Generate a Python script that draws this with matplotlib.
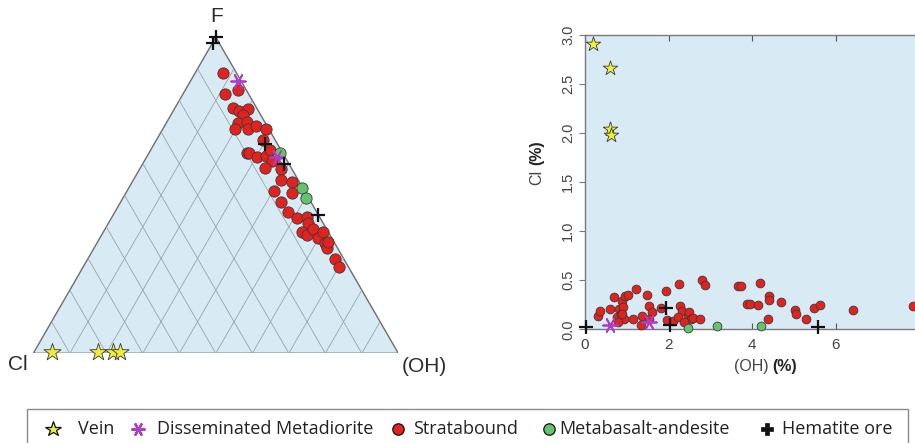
import numpy as np
import matplotlib
matplotlib.use("Agg")
import matplotlib.pyplot as plt
from matplotlib.patches import Rectangle, Polygon

plt.rcParams['font.family'] = ['Liberation Sans', 'DejaVu Sans']

# ---------------- Ternary data (F, Cl, OH in %) ----------------
strat_F = [88.6, 83.3, 82.1, 77.5, 76.8, 77.2, 75.4, 72.8, 73.3, 70.9, 70.9, 71.9, 70.9, 67.5,
           63.3, 63.3, 62.0, 62.4, 64.3, 60.7, 58.5, 58.2, 54.9, 54.3, 50.8, 51.5, 48.0, 44.8,
           42.7, 43.2, 41.1, 38.5, 37.4, 39.2, 36.4, 38.5, 35.0, 33.2, 35.3, 29.7, 27.2]
strat_Cl = [3.8, 2.2, 6.4, 6.5, 5.2, 2.5, 4.8, 7.4, 4.9, 9.3, 5.6, 3.1, 0.8, 3.2,
            9.9, 9.2, 7.6, 5.1, 2.9, 4.3, 7.3, 3.1, 4.7, 2.1, 3.8, 8.2, 8.0, 7.7,
            6.5, 3.5, 4.1, 7.0, 6.4, 3.9, 3.7, 1.3, 2.6, 3.0, 1.5, 2.5, 2.6]
strat_OH = [7.6, 14.5, 11.5, 16.0, 18.0, 20.3, 19.8, 19.8, 21.8, 19.8, 23.5, 25.0, 28.3, 29.3,
            26.8, 27.5, 30.4, 32.5, 32.8, 35.0, 34.2, 38.7, 40.4, 43.6, 45.4, 40.3, 44.0, 47.5,
            50.8, 53.3, 54.8, 54.5, 56.2, 56.9, 59.9, 60.2, 62.4, 63.8, 63.2, 67.8, 70.2]

meta_F = [63.5, 52.2, 49.1]
meta_Cl = [0.7, 0.2, 0.7]
meta_OH = [35.8, 47.6, 50.2]

diss_F = [86.2, 62.2]
diss_Cl = [0.9, 2.2]
diss_OH = [12.9, 35.6]

hem_F = [100.0, 98.3, 66.1, 59.9, 43.8]
hem_Cl = [0.0, 1.7, 3.5, 1.4, 0.0]
hem_OH = [0.0, 0.0, 30.4, 38.7, 56.2]

vein_F = [0.3, 0.3, 0.3, 0.3]
vein_Cl = [94.7, 82.2, 78.0, 76.0]
vein_OH = [5.0, 17.5, 21.7, 23.7]

# ---------------- Scatter data (OH %, Cl %) ----------------
s_vein_OH = [0.18, 0.60, 0.60, 0.62]
s_vein_Cl = [2.91, 2.66, 2.04, 1.98]

s_strat_OH = [0.30, 0.37, 0.61, 0.70, 0.76, 0.81, 0.86, 0.89, 0.92, 0.94, 0.97, 1.04, 1.16,
              1.22, 1.37, 1.34, 1.48, 1.53, 1.61, 1.53, 1.82, 1.94, 1.96, 2.10, 2.26, 2.28,
              2.33, 2.22, 2.46, 2.50, 2.54, 2.36, 2.58, 2.76, 2.81, 2.88, 3.66, 3.74, 3.88,
              3.96, 4.14, 4.20, 4.40, 4.40, 4.38, 4.69, 5.02, 5.06, 5.29, 5.48, 5.62, 6.42,
              7.85, 0.88, 0.78]
s_strat_Cl = [0.14, 0.19, 0.21, 0.33, 0.13, 0.21, 0.16, 0.29, 0.23, 0.10, 0.34, 0.35, 0.11,
              0.41, 0.14, 0.04, 0.35, 0.24, 0.18, 0.10, 0.22, 0.39, 0.09, 0.08, 0.46, 0.24,
              0.19, 0.13, 0.14, 0.18, 0.10, 0.07, 0.12, 0.10, 0.50, 0.45, 0.44, 0.44, 0.26,
              0.26, 0.25, 0.47, 0.34, 0.30, 0.11, 0.28, 0.20, 0.16, 0.11, 0.22, 0.25, 0.20,
              0.24, 0.16, 0.07]

s_meta_OH = [2.46, 3.17, 4.21]
s_meta_Cl = [0.01, 0.03, 0.03]

s_diss_OH = [0.61, 1.54]
s_diss_Cl = [0.04, 0.07]

s_hem_OH = [0.03, 1.94, 2.04, 5.58]
s_hem_Cl = [0.02, 0.22, 0.04, 0.02]

legend_labels = ["Vein", "Disseminated Metadiorite", "Stratabound", "Metabasalt-andesite", "Hematite ore"]
x_ticks = [0, 2, 4, 6, 8]
y_ticks = [0.0, 0.5, 1.0, 1.5, 2.0, 2.5, 3.0]

# ---------------- styles ----------------
BG = '#d8eaf3'
RED = '#e3221f'
GREEN = '#63c46d'
YELLOW = '#eded3c'
MAG = '#b03cc4'
EDGE = '#3a3a3a'

W, H = 915, 443
fig = plt.figure(figsize=(W / 100, H / 100), dpi=100)


def fx(px):
    return px / W


def fy(py):
    return (H - py) / H


# ---------------- ternary ----------------
clx, cly = 33.3, 353.3
side = 365.0
h3 = np.sqrt(3) / 2
axT = fig.add_axes([fx(clx), fy(cly), side / W, side * h3 / H])
axT.set_xlim(0, 1)
axT.set_ylim(0, h3)
axT.axis('off')

axT.add_patch(Polygon([[0, 0], [1, 0], [0.5, h3]], closed=True, facecolor=BG,
                      edgecolor='#6e6e6e', lw=1.0, zorder=1))
for k in range(1, 10):
    c = k / 10
    axT.plot([1 - c, (1 - c) / 2], [0, (1 - c) * h3], color='#98a4ac', lw=0.6, zorder=2)
    axT.plot([c, c + (1 - c) / 2], [0, (1 - c) * h3], color='#98a4ac', lw=0.6, zorder=2)


def tern(F, Cl, OH):
    F, Cl, OH = map(np.asarray, (F, Cl, OH))
    s = F + Cl + OH
    return OH / s + 0.5 * F / s, h3 * F / s


x, y = tern(strat_F, strat_Cl, strat_OH)
axT.scatter(x, y, s=66, c=RED, edgecolors=EDGE, linewidths=0.6, zorder=4, clip_on=False)
x, y = tern(meta_F, meta_Cl, meta_OH)
axT.scatter(x, y, s=66, c=GREEN, edgecolors=EDGE, linewidths=0.6, zorder=4, clip_on=False)
x, y = tern(diss_F, diss_Cl, diss_OH)
axT.scatter(x, y, s=110, marker=(6, 2, 90), c=MAG, linewidths=1.3, zorder=5, clip_on=False)
x, y = tern(hem_F, hem_Cl, hem_OH)
axT.scatter(x, y, s=90, marker='+', c='#111111', linewidths=1.6, zorder=6, clip_on=False)
x, y = tern(vein_F, vein_Cl, vein_OH)
axT.scatter(x, y, s=170, marker='*', c=YELLOW, edgecolors=EDGE, linewidths=0.6, zorder=5, clip_on=False)

fig.text(fx(216.7), fy(17), 'F', ha='center', va='center', fontsize=15, color='#2b2b2b')
fig.text(fx(18), fy(364), 'Cl', ha='center', va='center', fontsize=15, color='#2b2b2b')
fig.text(fx(424), fy(366), '(OH)', ha='center', va='center', fontsize=15, color='#2b2b2b')

# ---------------- scatter ----------------
x0, x1 = 585.0, 585.0 + 8 * 41.75
y0, y1 = 329.3, 35.0
axS = fig.add_axes([fx(x0), fy(y0), (x1 - x0) / W, (y0 - y1) / H])
axS.set_facecolor(BG)
axS.set_xlim(0, 8)
axS.set_ylim(0, 3)
for sp in axS.spines.values():
    sp.set_color('#7a7a7a')
    sp.set_linewidth(1.0)
axS.set_xticks(x_ticks)
axS.set_xticklabels([str(t) for t in x_ticks])
axS.set_yticks(y_ticks)
axS.set_yticklabels([f"{t:.1f}" for t in y_ticks], rotation=90, va='center')
axS.tick_params(axis='y', direction='out', length=4, width=0.8, color='#7a7a7a',
                labelsize=10.5, labelcolor='#444444', pad=3, right=True)
axS.tick_params(axis='x', direction='in', length=4, width=0.8, color='#555555',
                labelsize=11, labelcolor='#444444', pad=6, top=True)

axS.scatter(s_strat_OH, s_strat_Cl, s=40, c=RED, edgecolors=EDGE, linewidths=0.6, zorder=4, clip_on=False)
axS.scatter(s_meta_OH, s_meta_Cl, s=40, c=GREEN, edgecolors=EDGE, linewidths=0.6, zorder=4, clip_on=False)
axS.scatter(s_diss_OH, s_diss_Cl, s=110, marker=(6, 2, 90), c=MAG, linewidths=1.3, zorder=5, clip_on=False)
axS.scatter(s_hem_OH, s_hem_Cl, s=90, marker='+', c='#111111', linewidths=1.6, zorder=6, clip_on=False)
axS.scatter(s_vein_OH, s_vein_Cl, s=120, marker='*', c=YELLOW, edgecolors=EDGE, linewidths=0.6, zorder=5, clip_on=False)

fig.text(fx(769), fy(367), '(OH)', ha='right', va='center', fontsize=11.5, color='#444444')
fig.text(fx(772), fy(367), '(%)', ha='left', va='center', fontsize=11.5, color='#222222', fontweight='bold')
fig.text(fx(536.7), fy(177.5), 'Cl', ha='center', va='center', rotation=90, fontsize=11.5, color='#444444')
fig.text(fx(536.7), fy(152.5), '(%)', ha='center', va='center', rotation=90, fontsize=11.5,
         color='#222222', fontweight='bold')

# ---------------- legend ----------------
axL = fig.add_axes([0, 0, 1, 1], zorder=10)
axL.set_xlim(0, W)
axL.set_ylim(H, 0)
axL.axis('off')
axL.add_patch(Rectangle((27, 409), 881, 40, facecolor='white', edgecolor='#8a8a8a', lw=1.0))
ly = 429
handles = [
    dict(marker='*', ms=11.5, mfc=YELLOW, mec='#111111', mew=0.9, x=53),
    dict(marker=(6, 2, 90), ms=10, mfc=MAG, mec=MAG, mew=1.6, x=138),
    dict(marker='o', ms=8.2, mfc=RED, mec='#111111', mew=0.9, x=398),
    dict(marker='o', ms=8.2, mfc=GREEN, mec='#111111', mew=0.9, x=549),
    dict(marker='P', ms=9, mfc='#111111', mec='#111111', mew=0.5, x=767),
]
text_x = [78, 157, 413, 559, 782]
for hd, lab, tx in zip(handles, legend_labels, text_x):
    xx = hd.pop('x')
    axL.plot([xx], [ly], linestyle='none', **hd)
    axL.text(tx, ly + 0.5, lab, ha='left', va='center', fontsize=13, color='#222222',
             family=['Open Sans', 'DejaVu Sans'])

fig.savefig('out.png', dpi=100)
